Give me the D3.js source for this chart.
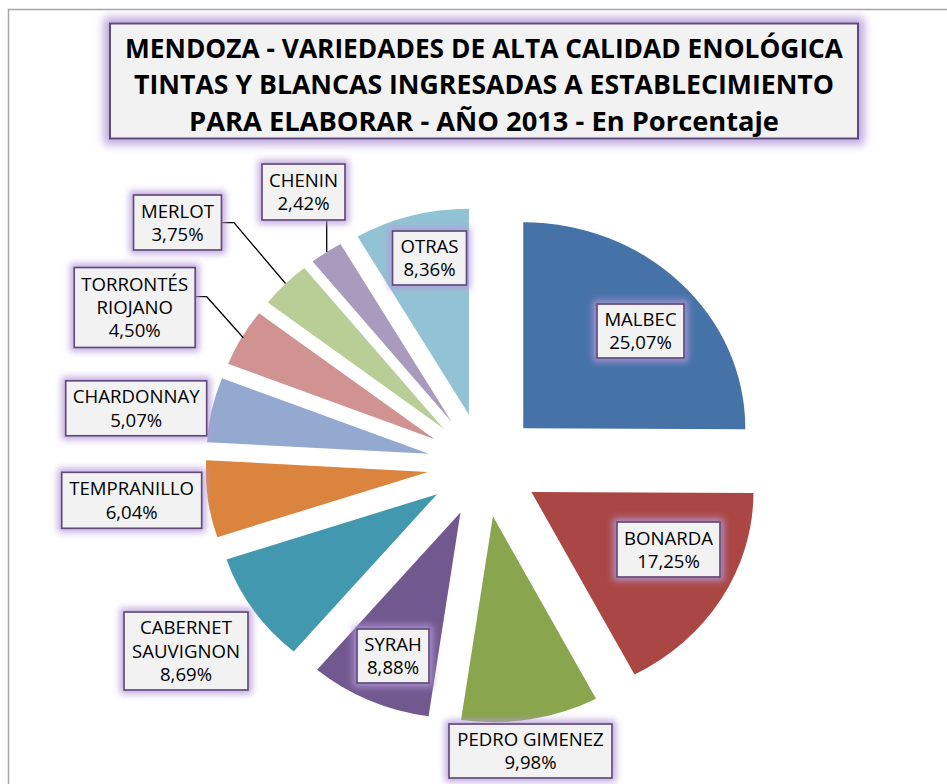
<!DOCTYPE html>
<html>
<head>
<meta charset="utf-8">
<script src="https://cdn.jsdelivr.net/npm/d3@7"></script>
<style>
  body { margin: 0; background: #fff; }
  svg { display: block; }
</style>
</head>
<body>
<svg width="947" height="784"></svg>
<script>
const svg = d3.select("svg");

// data
const categories = ["MALBEC", "BONARDA", "PEDRO GIMENEZ", "SYRAH", "CABERNET SAUVIGNON",
  "TEMPRANILLO", "CHARDONNAY", "TORRONTÉS RIOJANO", "MERLOT", "CHENIN", "OTRAS"];
const values = [25.07, 17.25, 9.98, 8.88, 8.69, 6.04, 5.07, 4.50, 3.75, 2.42, 8.36];
const colors = ["#4572a7", "#aa4643", "#89a54e", "#71588f", "#4198af",
  "#db843d", "#93a9cf", "#d19392", "#b9cd96", "#a99bbd", "#92c3d4"];
const titleLines = [
  "MENDOZA - VARIEDADES DE ALTA CALIDAD ENOLÓGICA",
  "TINTAS Y BLANCAS INGRESADAS A ESTABLECIMIENTO",
  "PARA ELABORAR - AÑO 2013 - En Porcentaje"
];

// layout
const cx = 483.5, cy = 465, R = 206, sx = 1.078, explode = 52;
// label boxes: centre, size, and how the name wraps
const labelLayout = {
  "MALBEC":             { x: 640.5, y: 331,   w: 87,  h: 54, lines: ["MALBEC"] },
  "BONARDA":            { x: 668.5, y: 549.5, w: 103, h: 55, lines: ["BONARDA"] },
  "PEDRO GIMENEZ":      { x: 530.5, y: 751,   w: 163, h: 54, lines: ["PEDRO GIMENEZ"] },
  "SYRAH":              { x: 393,   y: 656,   w: 72,  h: 54, lines: ["SYRAH"] },
  "CABERNET SAUVIGNON": { x: 186,   y: 651,   w: 124, h: 78, lines: ["CABERNET", "SAUVIGNON"] },
  "TEMPRANILLO":        { x: 131.7, y: 500.3, w: 140, h: 56, lines: ["TEMPRANILLO"] },
  "CHARDONNAY":         { x: 136.2, y: 408.3, w: 141, h: 55, lines: ["CHARDONNAY"] },
  "TORRONTÉS RIOJANO":  { x: 134.7, y: 307.5, w: 121, h: 80, lines: ["TORRONTÉS", "RIOJANO"] },
  "MERLOT":             { x: 177.5, y: 222.5, w: 88,  h: 55, lines: ["MERLOT"] },
  "CHENIN":             { x: 303.5, y: 192,   w: 83,  h: 56, lines: ["CHENIN"] },
  "OTRAS":              { x: 429.5, y: 258,   w: 74,  h: 54, lines: ["OTRAS"] }
};
// leader lines (label side -> slice side)
const leaders = {
  "MERLOT": [[221.7, 222.7], [234, 222.7], [285.5, 283.5]],
  "TORRONTÉS RIOJANO": [[195, 296.7], [206.7, 296.7], [243.3, 337.7]],
  "CHENIN": [[326.7, 220], [326.7, 252]]
};

const fmt = v => v.toFixed(2).replace(".", ",") + "%";

// filters
const defs = svg.append("defs");
function glow(id, dil, blur, op) {
  const f = defs.append("filter").attr("id", id)
    .attr("x", "-30%").attr("y", "-50%").attr("width", "160%").attr("height", "200%");
  f.append("feMorphology").attr("in", "SourceAlpha").attr("operator", "dilate")
    .attr("radius", dil).attr("result", "d");
  f.append("feGaussianBlur").attr("in", "d").attr("stdDeviation", blur).attr("result", "b");
  f.append("feFlood").attr("flood-color", "#b49ad9").attr("flood-opacity", op);
  f.append("feComposite").attr("in2", "b").attr("operator", "in").attr("result", "g");
  const m = f.append("feMerge");
  m.append("feMergeNode").attr("in", "g");
  m.append("feMergeNode").attr("in", "SourceGraphic");
}
glow("glowBig", 5, 5, 0.9);
glow("glowSmall", 3, 3.5, 0.85);

// outer frame
svg.append("rect")
  .attr("x", 8.5).attr("y", 9.5).attr("width", 1000).attr("height", 1000)
  .attr("fill", "none").attr("stroke", "#a6a6a6").attr("stroke-width", 1.5);

// pie
const pie = d3.pie().sort(null).value(d => d.value);
const arc = d3.arc().innerRadius(0).outerRadius(R);
const rows = categories.map((c, i) => ({ name: c, value: values[i], color: colors[i] }));
const arcs = pie(rows);

const pieG = svg.append("g")
  .attr("transform", `translate(${cx},${cy}) scale(${sx},1)`);

pieG.selectAll("path")
  .data(arcs)
  .enter()
  .append("path")
  .attr("transform", d => {
    const a = (d.startAngle + d.endAngle) / 2;
    return `translate(${explode * Math.sin(a)},${-explode * Math.cos(a)})`;
  })
  .attr("d", arc)
  .attr("fill", d => d.data.color);

// leader lines
Object.entries(leaders).forEach(([k, pts]) => {
  svg.append("path")
    .attr("d", d3.line()(pts))
    .attr("fill", "none")
    .attr("stroke", "#000")
    .attr("stroke-width", 1.3);
});

// labels
const fontSize = 18.6, lineH = 23.3, capH = 13.3;
arcs.forEach(d => {
  const L = labelLayout[d.data.name];
  const g = svg.append("g").attr("filter", "url(#glowSmall)");
  g.append("rect")
    .attr("x", L.x - L.w / 2).attr("y", L.y - L.h / 2)
    .attr("width", L.w).attr("height", L.h)
    .attr("fill", "#f2f2f2")
    .attr("stroke", "#604a7b")
    .attr("stroke-width", 1.7);
  const lines = L.lines.concat([fmt(d.data.value)]);
  const block = capH + (lines.length - 1) * lineH;
  const y0 = L.y - block / 2 + capH;
  lines.forEach((t, i) => {
    svg.append("text")
      .attr("x", L.x).attr("y", y0 + i * lineH)
      .attr("text-anchor", "middle")
      .style("font-family", "'Open Sans', sans-serif")
      .style("font-size", fontSize + "px")
      .style("font-weight", 500)
      .attr("fill", "#000")
      .text(t);
  });
});

// title
const tg = svg.append("g").attr("filter", "url(#glowBig)");
tg.append("rect")
  .attr("x", 110).attr("y", 23.5).attr("width", 748).attr("height", 115)
  .attr("fill", "#f2f2f2")
  .attr("stroke", "#604a7b")
  .attr("stroke-width", 2);
const titleWidths = [718, 700, 590];
titleLines.forEach((t, i) => {
  svg.append("text")
    .attr("x", 484).attr("y", 57.5 + i * 36.5)
    .attr("text-anchor", "middle")
    .attr("textLength", titleWidths[i])
    .attr("lengthAdjust", "spacingAndGlyphs")
    .style("font-family", "'Open Sans', sans-serif")
    .style("font-weight", "bold")
    .style("font-size", "27px")
    .attr("fill", "#000")
    .text(t);
});
</script>
</body>
</html>
